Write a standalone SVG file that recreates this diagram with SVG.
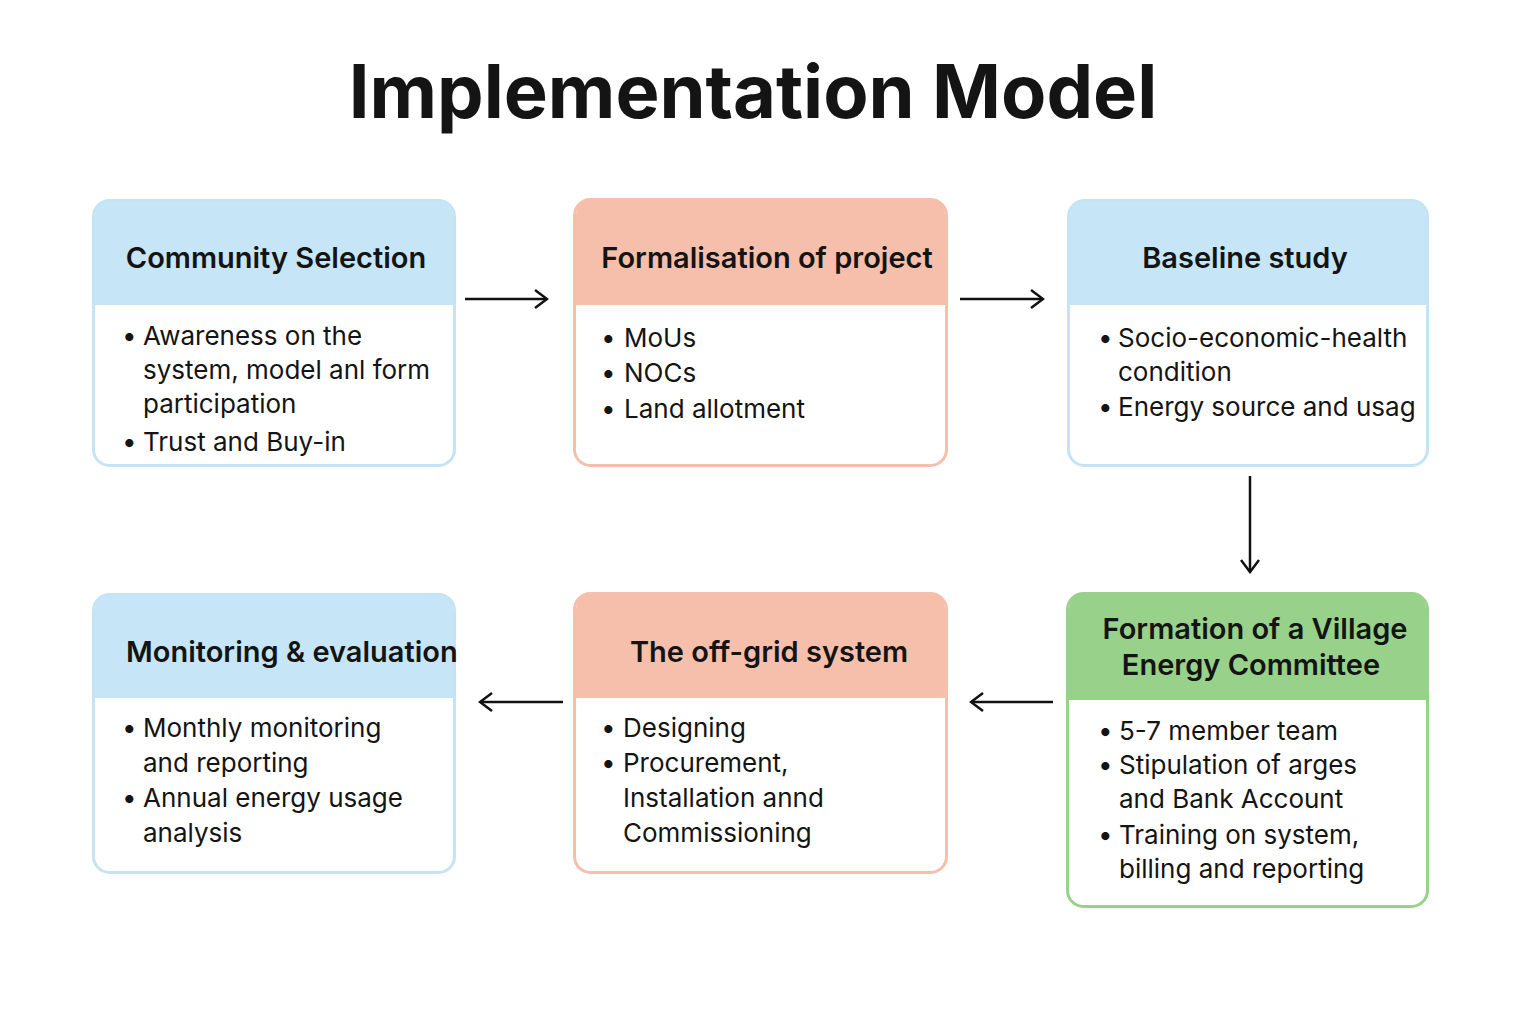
<svg xmlns="http://www.w3.org/2000/svg" width="1536" height="1024" viewBox="0 0 1536 1024">
<style>
.title{font-family:Inter,"Liberation Sans",sans-serif;font-weight:700;font-size:74px;fill:#141414}
.hd{font-family:Inter,"Liberation Sans",sans-serif;font-weight:600;font-size:29px;fill:#141414}
.bd{font-family:Inter,"Liberation Sans",sans-serif;font-weight:400;font-size:26px;fill:#141414}
.blue{fill:#FFFFFF;stroke:#C4E4F6;stroke-width:3}
.blueh{fill:#C6E6F7}
.sal{fill:#FFFFFF;stroke:#F6BFAB;stroke-width:3}
.salh{fill:#F6BFAB}
.grn{fill:#FFFFFF;stroke:#98D18A;stroke-width:3}
.grnh{fill:#98D18A}
.con{stroke:#111;stroke-width:2.5;fill:none}
</style>
<defs>
<marker id="ah" viewBox="0 0 20 20" refX="18" refY="10" markerWidth="20" markerHeight="20" markerUnits="userSpaceOnUse" orient="auto">
<path d="M6,1 L18,10 L6,19" fill="none" stroke="#111" stroke-width="2.5"/>
</marker>
</defs>
<rect width="1536" height="1024" fill="#FFFFFF"/>
<text class="title" x="753" y="118" text-anchor="middle">Implementation Model</text>

<g id="community-selection">
<rect class="blue" x="93.5" y="200.5" width="361" height="265" rx="16"/>
<path class="blueh" d="M95,305 V216 a15,15 0 0 1 15,-15 H438 a15,15 0 0 1 15,15 V305 Z"/>
<text class="hd" x="276" y="268" text-anchor="middle">Community Selection</text>
<text class="bd"><tspan x="122" y="345">•</tspan><tspan x="143" y="345">Awareness on the</tspan><tspan x="143" y="379">system, model anl form</tspan><tspan x="143" y="413">participation</tspan><tspan x="122" y="451">•</tspan><tspan x="143" y="451">Trust and Buy-in</tspan></text>
</g>

<g id="formalisation">
<rect class="sal" x="574.5" y="199.5" width="372" height="266" rx="16"/>
<path class="salh" d="M576,305 V215 a15,15 0 0 1 15,-15 H930 a15,15 0 0 1 15,15 V305 Z"/>
<text class="hd" x="767" y="268" text-anchor="middle">Formalisation of project</text>
<text class="bd"><tspan x="601" y="347">•</tspan><tspan x="624" y="347">MoUs</tspan><tspan x="601" y="382">•</tspan><tspan x="624" y="382">NOCs</tspan><tspan x="601" y="418">•</tspan><tspan x="624" y="418">Land allotment</tspan></text>
</g>

<g id="baseline-study">
<rect class="blue" x="1068.5" y="200.5" width="359" height="265" rx="16"/>
<path class="blueh" d="M1070,305 V216 a15,15 0 0 1 15,-15 H1411 a15,15 0 0 1 15,15 V305 Z"/>
<text class="hd" x="1245" y="268" text-anchor="middle">Baseline study</text>
<text class="bd"><tspan x="1098" y="347">•</tspan><tspan x="1118" y="347">Socio-economic-health</tspan><tspan x="1118" y="381">condition</tspan><tspan x="1098" y="416">•</tspan><tspan x="1118" y="416">Energy source and usag</tspan></text>
</g>

<g id="village-committee">
<rect class="grn" x="1067.5" y="593.5" width="360" height="313" rx="16"/>
<path class="grnh" d="M1069,700 V609 a15,15 0 0 1 15,-15 H1411 a15,15 0 0 1 15,15 V700 Z"/>
<text class="hd" text-anchor="middle"><tspan x="1255" y="639">Formation of a Village</tspan><tspan x="1251" y="675">Energy Committee</tspan></text>
<text class="bd"><tspan x="1098" y="740">•</tspan><tspan x="1119" y="740">5-7 member team</tspan><tspan x="1098" y="774">•</tspan><tspan x="1119" y="774">Stipulation of arges</tspan><tspan x="1119" y="808">and Bank Account</tspan><tspan x="1098" y="844">•</tspan><tspan x="1119" y="844">Training on system,</tspan><tspan x="1119" y="878">billing and reporting</tspan></text>
</g>

<g id="off-grid-system">
<rect class="sal" x="574.5" y="593.5" width="372" height="279" rx="16"/>
<path class="salh" d="M576,698 V609 a15,15 0 0 1 15,-15 H930 a15,15 0 0 1 15,15 V698 Z"/>
<text class="hd" x="769" y="662" text-anchor="middle">The off-grid system</text>
<text class="bd"><tspan x="601" y="737">•</tspan><tspan x="623" y="737">Designing</tspan><tspan x="601" y="772">•</tspan><tspan x="623" y="772">Procurement,</tspan><tspan x="623" y="807">Installation annd</tspan><tspan x="623" y="842">Commissioning</tspan></text>
</g>

<g id="monitoring">
<rect class="blue" x="93.5" y="594.5" width="361" height="278" rx="16"/>
<path class="blueh" d="M95,698 V610 a15,15 0 0 1 15,-15 H438 a15,15 0 0 1 15,15 V698 Z"/>
<text class="hd" x="126" y="662">Monitoring &amp; evaluation</text>
<text class="bd"><tspan x="122" y="737">•</tspan><tspan x="143" y="737">Monthly monitoring</tspan><tspan x="143" y="772">and reporting</tspan><tspan x="122" y="807">•</tspan><tspan x="143" y="807">Annual energy usage</tspan><tspan x="143" y="842">analysis</tspan></text>
</g>

<g id="connectors">
<line class="con" x1="465" y1="299" x2="547" y2="299" marker-end="url(#ah)"/>
<line class="con" x1="960" y1="299" x2="1043" y2="299" marker-end="url(#ah)"/>
<line class="con" x1="1250" y1="476" x2="1250" y2="572" marker-end="url(#ah)"/>
<line class="con" x1="1053" y1="702" x2="971" y2="702" marker-end="url(#ah)"/>
<line class="con" x1="563" y1="702" x2="480" y2="702" marker-end="url(#ah)"/>
</g>
</svg>
